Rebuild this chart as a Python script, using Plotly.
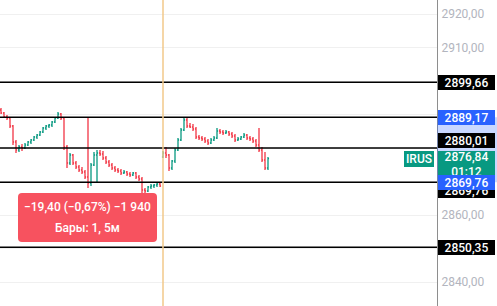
import plotly.graph_objects as go

# ---- data ----
opens = [2891.34, 2890.45, 2889.25, 2888.96, 2886.57, 2881.79, 2879.40, 2880.30, 2880.00, 2880.90,
         2881.79, 2882.39, 2883.28, 2883.88, 2884.78, 2885.97, 2886.57, 2886.87, 2887.76, 2888.96,
         2890.15, 2888.96, 2880.30, 2875.52, 2877.91, 2875.52, 2874.33, 2873.43, 2872.84, 2871.34,
         2869.55, 2874.93, 2877.91, 2878.51, 2878.21, 2877.02, 2875.82, 2874.93, 2874.03, 2873.43,
         2873.14, 2872.54, 2872.84, 2872.24, 2871.94, 2872.54, 2871.34, 2870.75, 2867.46, 2867.17,
         2868.36, 2868.66, 2868.96, 2869.25, 2877.31, 2878.51, 2877.91, 2874.03, 2876.12, 2879.40,
         2882.39, 2885.37, 2888.36, 2886.57, 2886.27, 2885.67, 2883.28, 2882.99, 2882.69, 2882.09,
         2881.49, 2882.39, 2882.99, 2885.08, 2884.78, 2884.48, 2884.78, 2884.18, 2883.58, 2882.39,
         2882.69, 2883.28, 2883.88, 2882.99, 2882.69, 2882.09, 2880.90, 2879.40, 2876.42, 2874.03]
highs = [2891.94, 2890.75, 2889.85, 2889.25, 2886.87, 2882.39, 2880.90, 2881.19, 2881.49, 2882.09,
         2882.69, 2883.58, 2884.18, 2885.08, 2886.27, 2886.87, 2887.17, 2888.06, 2889.25, 2890.75,
         2890.45, 2889.25, 2880.90, 2878.51, 2878.21, 2876.12, 2874.93, 2874.33, 2873.43, 2889.17,
         2875.52, 2878.81, 2879.40, 2879.40, 2879.11, 2877.61, 2876.42, 2875.52, 2874.63, 2874.03,
         2873.73, 2873.43, 2873.14, 2872.84, 2872.84, 2872.84, 2871.94, 2871.34, 2868.06, 2868.66,
         2869.25, 2869.25, 2869.55, 2869.55, 2879.11, 2880.30, 2878.21, 2876.42, 2880.00, 2882.99,
         2885.97, 2889.25, 2888.96, 2887.46, 2887.17, 2886.27, 2883.88, 2883.58, 2883.28, 2882.69,
         2882.99, 2883.58, 2885.97, 2885.67, 2885.37, 2885.37, 2885.08, 2884.78, 2884.18, 2883.28,
         2883.58, 2884.48, 2884.18, 2883.58, 2883.28, 2882.69, 2885.97, 2880.30, 2878.81, 2877.31]
lows = [2890.15, 2888.96, 2888.36, 2885.97, 2880.90, 2878.51, 2878.81, 2879.11, 2879.70, 2880.60,
        2881.19, 2882.09, 2882.69, 2883.58, 2884.48, 2885.37, 2885.97, 2886.27, 2887.46, 2888.66,
        2888.36, 2879.40, 2874.03, 2874.93, 2874.93, 2873.73, 2872.84, 2872.24, 2870.75, 2868.06,
        2868.66, 2874.63, 2869.55, 2877.61, 2876.42, 2875.22, 2874.33, 2873.43, 2872.84, 2872.54,
        2871.94, 2872.24, 2871.64, 2871.34, 2871.64, 2870.75, 2870.15, 2866.57, 2866.57, 2866.87,
        2867.76, 2868.06, 2868.36, 2868.36, 2877.02, 2877.02, 2873.14, 2873.43, 2875.52, 2879.11,
        2882.09, 2885.08, 2885.97, 2885.97, 2885.08, 2882.69, 2882.39, 2882.09, 2881.49, 2880.90,
        2881.19, 2882.09, 2882.69, 2884.18, 2883.88, 2884.18, 2883.58, 2882.99, 2881.79, 2882.09,
        2882.39, 2882.99, 2882.39, 2882.09, 2881.49, 2880.30, 2878.81, 2875.82, 2873.43, 2873.43]
closes = [2890.45, 2889.25, 2888.96, 2886.57, 2881.79, 2879.40, 2880.30, 2880.00, 2880.90, 2881.79,
          2882.39, 2883.28, 2883.88, 2884.78, 2885.97, 2886.57, 2886.87, 2887.76, 2888.96, 2890.15,
          2888.96, 2880.30, 2875.52, 2877.91, 2875.52, 2874.33, 2873.43, 2872.84, 2871.34, 2869.55,
          2874.93, 2877.91, 2878.51, 2878.21, 2877.02, 2875.82, 2874.93, 2874.03, 2873.43, 2873.14,
          2872.54, 2872.84, 2872.24, 2871.94, 2872.54, 2871.34, 2870.75, 2867.46, 2867.17, 2868.36,
          2868.66, 2868.96, 2869.25, 2868.66, 2878.51, 2877.91, 2874.03, 2876.12, 2879.40, 2882.39,
          2885.37, 2888.36, 2886.57, 2886.27, 2885.67, 2883.28, 2882.99, 2882.69, 2882.09, 2881.49,
          2882.39, 2882.99, 2885.08, 2884.78, 2884.48, 2884.78, 2884.18, 2883.58, 2882.39, 2882.69,
          2883.28, 2883.88, 2882.99, 2882.69, 2882.09, 2880.90, 2879.40, 2876.42, 2874.03, 2876.84]
bar_index = list(range(len(closes)))

levels = [2899.66, 2889.17, 2880.01, 2869.76, 2850.35]
tick_vals = [2840, 2850, 2860, 2870, 2880, 2890, 2900, 2910, 2920]
tick_text = ["2840,00", "", "2860,00", "", "", "", "", "2910,00", "2920,00"]

last_price = 2876.84
last_label = "2876,84<br>01:12"
symbol = "IRUS"
crosshair_bar = 54
measure_top = 2889.17
measure_bottom = 2869.76
tooltip_line1 = "\u221219,40 (\u22120,67%) \u22121 940"
tooltip_line2 = "Бары: 1, 5м"

GREEN = "#089981"
RED = "#F23645"
BLUE = "#2962FF"
FONT = "Roboto"

fig = go.Figure()
fig.add_trace(go.Ohlc(
    x=bar_index, open=opens, high=highs, low=lows, close=closes,
    increasing=dict(line=dict(color=GREEN, width=1.3)),
    decreasing=dict(line=dict(color=RED, width=1.3)),
    tickwidth=0.35, hoverinfo="skip", showlegend=False,
))

shapes = []
for lv in levels:
    shapes.append(dict(type="line", xref="paper", x0=0, x1=1, yref="y", y0=lv, y1=lv,
                       line=dict(color="#000000", width=1.5), layer="above"))
# crosshair vertical line
shapes.append(dict(type="line", xref="x", x0=crosshair_bar, x1=crosshair_bar, yref="paper",
                   y0=0, y1=1, line=dict(color="#F2C98A", width=1.5), layer="above"))
# measure band on axis
shapes.append(dict(type="rect", xref="paper", x0=1.0, x1=497/437, yref="y",
                   y0=measure_bottom, y1=measure_top, fillcolor="rgba(41,98,255,0.25)",
                   line=dict(width=0), layer="above"))
# tooltip rounded box (paper coords)
x0, x1 = 18/437, 157/437
y0, y1 = 1-242/306, 1-193/306
rx, ry = 4/437, 4/306
path = (f"M {x0+rx},{y0} L {x1-rx},{y0} Q {x1},{y0} {x1},{y0+ry} "
        f"L {x1},{y1-ry} Q {x1},{y1} {x1-rx},{y1} L {x0+rx},{y1} "
        f"Q {x0},{y1} {x0},{y1-ry} L {x0},{y0+ry} Q {x0},{y0} {x0+rx},{y0} Z")
shapes.append(dict(type="path", xref="paper", yref="paper", path=path,
                   fillcolor="#F7525F", line=dict(width=0), layer="above"))

ann = []
def price_label(text, y, bg, yshift=0, h=15):
    ann.append(dict(xref="paper", x=1.0, xanchor="left", xshift=1, yref="y", y=y,
                    yanchor="middle", yshift=yshift, text=text, showarrow=False,
                    bgcolor=bg, width=57, height=h, borderpad=0, borderwidth=0,
                    font=dict(color="white", size=12, family=FONT, weight=500)))

price_label("2869,76", levels[3], "#000000", yshift=-8)
price_label("2899,66", levels[0], "#000000")
price_label("2880,01", levels[2], "#000000", yshift=7)
price_label("2850,35", levels[4], "#000000")
price_label(last_label, last_price, GREEN, yshift=-6, h=27)
price_label("2889,17", measure_top, BLUE)
price_label("2869,76", measure_bottom, BLUE)

ann.append(dict(xref="paper", x=1.0, xanchor="right", xshift=-3, yref="y", y=last_price,
                yanchor="middle", yshift=0, text=symbol, showarrow=False, bgcolor=GREEN,
                borderpad=1, borderwidth=0, width=28, height=14,
                font=dict(color="white", size=12, family=FONT, weight=500)))
ann.append(dict(xref="paper", x=87.5/437, xanchor="center", yref="paper", y=1-207/306,
                yanchor="middle", text=tooltip_line1, showarrow=False,
                font=dict(color="white", size=12, family=FONT, weight=500)))
ann.append(dict(xref="paper", x=87.5/437, xanchor="center", yref="paper", y=1-228/306,
                yanchor="middle", text=tooltip_line2, showarrow=False,
                font=dict(color="white", size=12, family=FONT, weight=500)))

fig.update_layout(
    width=497, height=306,
    margin=dict(l=0, r=60, t=0, b=0),
    paper_bgcolor="white", plot_bgcolor="white",
    shapes=shapes, annotations=ann,
    xaxis=dict(range=[-1/3, 437/3 - 1/3], rangeslider=dict(visible=False),
               showgrid=False, zeroline=False, showticklabels=False, fixedrange=True),
    yaxis=dict(side="right", range=[2832.84, 2924.18], tickvals=tick_vals, ticktext=tick_text,
               showgrid=True, gridcolor="#F0F0F0", zeroline=False,
               showline=True, linecolor="#8E8E8E", linewidth=1, ticks="",
               ticklabelstandoff=1,
               tickfont=dict(color="#B2B5BE", size=12, family=FONT)),
    hovermode=False,
)

fig.write_html("out.html")
